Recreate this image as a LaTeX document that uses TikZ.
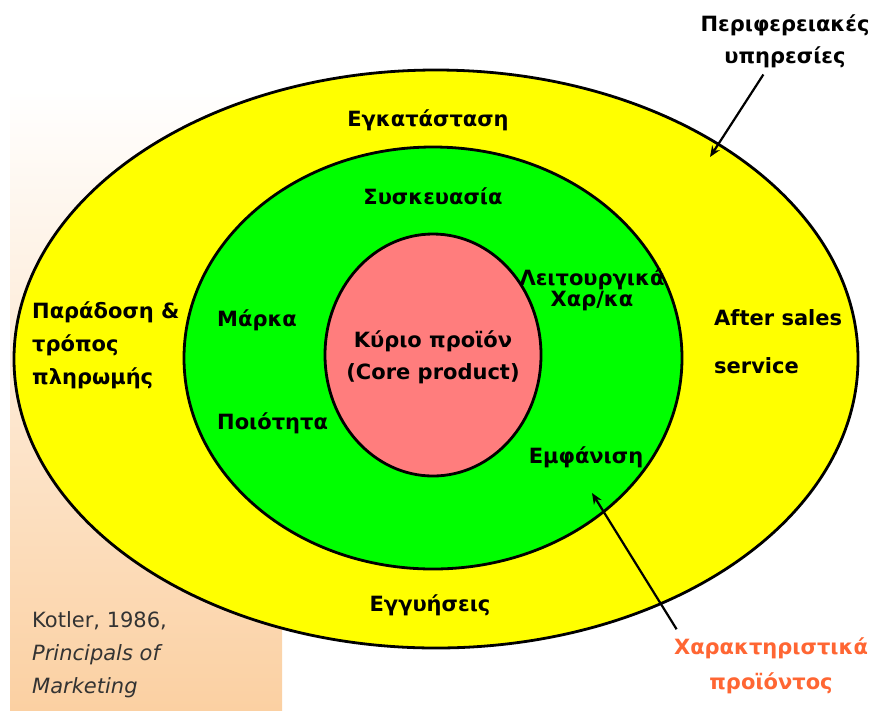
\documentclass[tikz,border=0pt]{standalone}
\usepackage{fontspec}
\setmainfont{DejaVu Sans}
\usetikzlibrary{arrows.meta}
\definecolor{ringyellow}{RGB}{255,255,0}
\definecolor{ringgreen}{RGB}{0,255,0}
\definecolor{corepink}{RGB}{255,125,125}
\definecolor{peach}{RGB}{251,208,162}
\definecolor{noteorange}{RGB}{255,102,51}
\definecolor{refgray}{RGB}{51,51,51}
\tikzset{
  ring/.style={draw=black, line width=2.8pt},
  lbl/.style={inner sep=0pt, align=center, font=\bfseries\fontsize{21}{#1}\selectfont},
  lbl/.default=25,
  ptr/.style={line width=2.2pt, -{Stealth[length=11pt,width=9pt]}}
}

\begin{document}
\begin{tikzpicture}[x=1pt,y=-1pt]
    \useasboundingbox (0,0) rectangle (874,713);
    \shade[top color=white, bottom color=peach] (10,90) rectangle (282,710);
    \draw[ring, fill=ringyellow] (436,359) ellipse (422pt and 289pt);
    \draw[ring, fill=ringgreen] (433,358) ellipse (249pt and 211pt);
    \draw[ring, fill=corepink] (433,355) ellipse (108pt and 121pt);
    \node[lbl] (inst) at (428,120) {Εγκατάσταση};
    \node[lbl] (pack) at (433,196) {Συσκευασία};
    \node[lbl=21] (func) at (592,290) {Λειτουργικά\\Χαρ/κα};
    \node[lbl, anchor=west] (brand) at (217,320) {Μάρκα};
    \node[lbl, anchor=west] (qual) at (217,423) {Ποιότητα};
    \node[lbl=33, anchor=west, align=left] (deliv) at (32,345) {Παράδοση \&\\τρόπος\\πληρωμής};
    \node[lbl=32] (core) at (433,357) {Κύριο προϊόν\\(Core product)};
    \node[lbl=48, anchor=west, align=left] (after) at (714,342) {After sales\\service};
    \node[lbl] (look) at (586,457) {Εμφάνιση};
    \node[lbl] (warr) at (430,605) {Εγγυήσεις};
    \node[lbl=32] (peri) at (785,41) {Περιφερειακές\\υπηρεσίες};
    \node[lbl=35, text=noteorange] (feat) at (771,666) {Χαρακτηριστικά\\προϊόντος};
    \node[inner sep=0pt, anchor=west, align=left, text=refgray, font=\fontsize{21}{33}\selectfont] (src) at (32,655) {Kotler, 1986,\\\textit{Principals of}\\\textit{Marketing}};
    \coordinate (peritip) at (710,157);
    \coordinate (feattip) at (592,493);
    \draw[ptr, shorten <=8pt] (peri) -- (peritip);
    \draw[ptr, shorten <=10pt] ([xshift=8pt]feat.north west) -- (feattip);
\end{tikzpicture}
\end{document}
